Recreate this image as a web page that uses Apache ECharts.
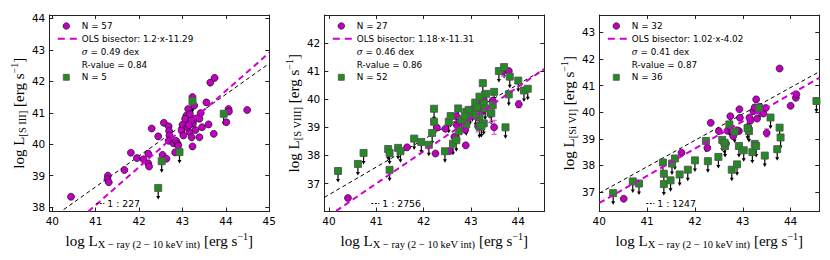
<!DOCTYPE html>
<html><head><meta charset="utf-8">
<script src="https://cdn.jsdelivr.net/npm/echarts@6/dist/echarts.min.js"></script>
<style>html,body{margin:0;padding:0;background:#fff}#c{width:830px;height:260px}</style>
</head><body><div id="c"></div>
<script>
// ---------------- DATA ----------------
// Panel 1: [S III]
const p1Detected = [[40.43,38.33],[41.28,39.00],[41.27,38.89],[41.30,38.79],[41.66,39.18],[41.81,39.73],[41.95,39.56],[42.10,39.52],[42.21,39.70],[42.21,39.39],
 [42.23,39.29],[42.29,40.50],[42.44,40.25],[42.57,40.68],[42.54,39.66],[42.63,39.54],[42.68,40.57],[42.69,40.42],[42.70,40.28],[42.68,40.11],
 [42.79,40.03],[42.85,40.11],[42.83,39.74],[42.89,40.01],[42.98,40.43],[43.00,40.62],[43.09,40.91],[43.11,40.78],[43.13,41.12],[43.23,41.50],
 [43.27,41.23],[43.17,40.96],[43.17,40.38],[43.21,40.22],[43.23,39.93],[43.24,40.65],[43.29,40.81],[43.39,40.81],[43.42,40.99],[43.39,40.22],
 [43.45,40.54],[43.55,41.33],[43.60,40.63],[43.64,41.96],[43.74,42.11],[43.72,40.33],[44.01,40.70],[44.06,41.12],[44.07,41.04],[44.49,41.09],
 [43.06,40.81],[43.02,40.28],[43.11,40.54],[43.20,40.75],[43.15,40.60],[42.90,39.95],[43.30,40.45]];
const p1Limits = [[43.23,41.37],[43.95,40.97],[42.93,39.75],[42.52,39.46],[42.44,38.61]];
const p1Errors = [];
const p1FitLine = [[40.83,37.86],[45.0,42.91]];
const p1RatioLine = [[40.26,37.92],[45.0,42.57]];
const p1Legend = ['N = 57','OLS bisector: 1.2·x-11.29','{i|σ} = 0.49 dex','R-value = 0.84','N = 5'];
const p1RatioLabel = '1 : 227';
const p1Ion = '[S III]';
const xTicks1 = [40,41,42,43,44,45];
const yTicks1 = [38,39,40,41,42,43,44];

// Panel 2: [S VIII]
const p2Detected = [[40.40,36.49],[41.65,38.29],[42.25,38.07],[42.28,38.99],[42.46,38.95],[42.55,38.16],[42.65,38.66],[42.70,39.08],[42.75,39.23],[42.69,39.40],
 [42.88,38.91],[42.89,38.36],[42.94,39.35],[43.11,39.76],[43.14,39.35],[43.15,39.04],[43.20,39.95],[43.27,39.97],[43.23,39.57],[43.41,39.47],
 [43.46,39.95],[43.49,39.00],[43.68,41.00],[43.80,41.00],[44.01,39.82],[43.25,39.63],[43.08,39.61]];
const p2Limits = [[40.19,37.45],[40.61,37.70],[40.73,38.09],[41.25,38.23],[41.28,38.09],[41.28,37.49],[41.46,38.27],[41.51,38.15],[41.80,38.60],[41.95,38.48],
 [42.11,38.38],[42.18,38.80],[42.22,39.20],[42.22,39.66],[42.45,38.15],[42.53,39.20],[42.57,39.40],[42.62,38.42],[42.69,38.54],[42.73,39.67],
 [42.74,38.86],[42.85,39.29],[42.90,39.55],[42.90,39.11],[42.98,39.49],[43.03,39.61],[43.09,39.88],[43.13,39.71],[43.18,39.37],[43.18,39.02],
 [43.25,40.57],[43.27,39.85],[43.27,39.14],[43.30,39.67],[43.32,40.19],[43.49,40.26],[43.46,39.79],[43.59,41.00],[43.70,41.14],[43.73,39.00],
 [43.82,40.80],[43.80,40.17],[44.00,40.66],[44.12,40.31],[44.20,40.37],[43.18,40.09],[42.95,39.62],[43.22,39.05],[42.80,39.25],[43.10,39.45],
 [43.43,39.50],[42.87,39.40]];
const p2Errors = [[43.41,39.47,0.30],[43.49,39.00,0.25],[43.68,41.00,0.18],[44.01,39.82,0.12],[43.20,39.95,0.15],[43.15,39.04,0.20]];
const p2FitLine = [[40.15,36.03],[44.55,41.07]];
const p2RatioLine = [[39.9,36.51],[44.55,41.07]];
const p2Legend = ['N = 27','OLS bisector: 1.18·x-11.31','{i|σ} = 0.46 dex','R-value = 0.86','N = 52'];
const p2RatioLabel = '1 : 2756';
const p2Ion = '[S VIII]';
const xTicks2 = [40,41,42,43,44];
const yTicks2 = [37,38,39,40,41,42];

// Panel 3: [Si VI]
const p3Detected = [[40.51,36.75],[41.72,38.48],[42.26,38.66],[42.33,39.60],[42.50,39.29],[42.61,38.82],[42.65,38.82],[42.68,39.30],[42.73,39.47],[42.74,39.85],
 [42.78,39.27],[42.80,39.10],[42.92,39.29],[42.94,39.79],[42.93,40.11],[43.11,39.45],[43.14,39.80],[43.16,39.68],[43.22,40.04],[43.25,40.18],
 [43.28,40.48],[43.30,39.76],[43.35,40.20],[43.43,39.95],[43.48,40.16],[43.50,39.22],[43.77,41.64],[44.00,40.24],[44.11,40.54],[44.12,40.67],
 [43.12,39.40],[42.88,39.32]];
const p3Limits = [[40.29,36.96],[40.70,37.40],[40.83,37.32],[41.33,38.11],[41.35,37.69],[41.35,37.30],[41.49,37.44],[41.52,38.07],[41.58,38.26],[41.68,37.66],
 [41.85,37.84],[42.00,38.19],[42.23,38.92],[42.27,38.16],[42.49,38.32],[42.57,38.96],[42.63,38.73],[42.72,39.54],[42.77,37.84],[42.83,39.27],
 [42.88,38.04],[42.92,38.73],[43.02,38.57],[43.13,39.29],[43.20,38.50],[43.25,38.81],[43.28,38.73],[43.34,40.16],[43.46,38.37],[43.58,39.80],
 [43.72,38.61],[43.77,39.42],[43.79,39.05],[44.54,40.42],[42.62,38.85],[43.10,39.40]];
const p3Errors = [[43.50,39.22,0.15]];
const p3FitLine = [[40.0,36.59],[44.6,41.29]];
const p3RatioLine = [[40.0,36.96],[44.6,41.52]];
const p3Legend = ['N = 32','OLS bisector: 1.02·x-4.02','{i|σ} = 0.41 dex','R-value = 0.87','N = 36'];
const p3RatioLabel = '1 : 1247';
const p3Ion = '[Si VI]';
const xTicks3 = [40,41,42,43,44];
const yTicks3 = [37,38,39,40,41,42,43];

// ---------------- LAYOUT ----------------
const panels = [
  {det:p1Detected, lim:p1Limits, err:p1Errors, fit:p1FitLine, ratio:p1RatioLine, leg:p1Legend, rl:p1RatioLabel, ion:p1Ion, xt:xTicks1, yt:yTicks1, xr:[39.93,45], yr:[37.86,44.11], left:49.3},
  {det:p2Detected, lim:p2Limits, err:p2Errors, fit:p2FitLine, ratio:p2RatioLine, leg:p2Legend, rl:p2RatioLabel, ion:p2Ion, xt:xTicks2, yt:yTicks2, xr:[39.9,44.55], yr:[36.01,42.99], left:324.3},
  {det:p3Detected, lim:p3Limits, err:p3Errors, fit:p3FitLine, ratio:p3RatioLine, leg:p3Legend, rl:p3RatioLabel, ion:p3Ion, xt:xTicks3, yt:yTicks3, xr:[40.0,44.6], yr:[36.27,43.65], left:599.3}
];
const TOP = 15, H = 196.5, W = 220;
const MAG = '#bf00bf', GRN = '#228b22', LINEMAG = '#d000d0', AX = '#222';

const nameRich = {
  a: {fontFamily:'Liberation Serif', fontSize:15, color:'#000', verticalAlign:'middle', lineHeight:18},
  s: {fontFamily:'Liberation Serif', fontSize:10.5, color:'#000', verticalAlign:'middle', padding:[8,0,0,0], lineHeight:12},
  p: {fontFamily:'Liberation Serif', fontSize:10, color:'#000', verticalAlign:'middle', padding:[0,0,9,0], lineHeight:12}
};
function fmt(v, ticks){ const r = Math.round(v); return (Math.abs(v-r) < 1e-6 && ticks.indexOf(r) >= 0) ? String(r) : ''; }

const grids = [], xAxes = [], yAxes = [], series = [], graphics = [];
panels.forEach((p, i) => {
  grids.push({left:p.left, top:TOP, width:W, height:H});
  const common = {type:'value', gridIndex:i, minInterval:1, maxInterval:1, splitLine:{show:false},
    axisLine:{show:true, onZero:false, lineStyle:{color:AX, width:1}},
    axisTick:{show:true, inside:true, length:4, lineStyle:{color:AX, width:1}}};
  xAxes.push(Object.assign({}, common, {position:'bottom', min:p.xr[0], max:p.xr[1],
    axisLabel:{show:true, formatter:v=>fmt(v,p.xt), fontFamily:'DejaVu Sans', fontSize:10.5, color:'#000', margin:4},
    name:'{a|log L}{s|X − ray (2 − 10 keV int)}{a| [erg s}{p|−1}{a|]}', nameLocation:'middle', nameGap:11,
    nameTextStyle:{rich:nameRich}}));
  xAxes.push(Object.assign({}, common, {position:'top', min:p.xr[0], max:p.xr[1], axisLabel:{show:false}}));
  yAxes.push(Object.assign({}, common, {position:'left', min:p.yr[0], max:p.yr[1],
    axisLabel:{show:true, formatter:v=>fmt(v,p.yt), fontFamily:'DejaVu Sans', fontSize:10.5, color:'#000', margin:4},
    name:'{a|log L}{s|' + p.ion + '}{a| [erg s}{p|−1}{a|]}', nameLocation:'middle', nameGap:21, nameRotate:90,
    nameTextStyle:{rich:nameRich}}));
  yAxes.push(Object.assign({}, common, {position:'right', min:p.yr[0], max:p.yr[1], axisLabel:{show:false}}));
  const xi = 2*i, yi = 2*i;
  series.push({type:'line', xAxisIndex:xi, yAxisIndex:yi, data:p.ratio, showSymbol:false, symbol:'none', z:2, silent:true,
    lineStyle:{color:'#000', width:1, type:[4,3]}});
  series.push({type:'custom', xAxisIndex:xi, yAxisIndex:yi, data:p.lim, z:3, clip:true, silent:true,
    renderItem:(params, api) => {
      const c = api.coord([api.value(0), api.value(1)]);
      return {type:'group', children:[
        {type:'line', shape:{x1:c[0], y1:c[1], x2:c[0], y2:c[1]+9}, style:{stroke:'#000', lineWidth:1.2}},
        {type:'polygon', shape:{points:[[c[0]-2,c[1]+8],[c[0]+2,c[1]+8],[c[0],c[1]+11.5]]}, style:{fill:'#000'}}
      ]};
    }});
  series.push({type:'custom', xAxisIndex:xi, yAxisIndex:yi, data:p.err, z:3, clip:true, silent:true,
    renderItem:(params, api) => {
      const x = api.value(0), y = api.value(1), e = api.value(2);
      const a = api.coord([x, y+e]), b = api.coord([x, y-e]);
      const st = {stroke:'#e060e0', lineWidth:1.2};
      return {type:'group', children:[
        {type:'line', shape:{x1:a[0], y1:a[1], x2:b[0], y2:b[1]}, style:st},
        {type:'line', shape:{x1:a[0]-2.5, y1:a[1], x2:a[0]+2.5, y2:a[1]}, style:st},
        {type:'line', shape:{x1:b[0]-2.5, y1:b[1], x2:b[0]+2.5, y2:b[1]}, style:st}
      ]};
    }});
  series.push({type:'scatter', xAxisIndex:xi, yAxisIndex:yi, data:p.det, symbol:'circle', symbolSize:7, z:4, silent:true,
    itemStyle:{color:MAG, borderColor:'#000', borderWidth:0.6, opacity:1}});
  series.push({type:'scatter', xAxisIndex:xi, yAxisIndex:yi, data:p.lim, symbol:'rect', symbolSize:7, z:5, silent:true,
    itemStyle:{color:GRN, borderColor:'#555', borderWidth:0.9, opacity:1}});
  series.push({type:'line', xAxisIndex:xi, yAxisIndex:yi, data:p.fit, showSymbol:false, symbol:'none', z:6, silent:true,
    lineStyle:{color:LINEMAG, width:2, type:[6,4]}});

  // legend block (top-left inside the axes)
  const L = p.left, rows = [26, 38.7, 52, 64.7, 77.3];
  const tstyle = (t, y) => ({type:'text', style:{text:t, x:L+32.5, y:y, fontFamily:'DejaVu Sans', fontSize:8.8, fill:'#000', verticalAlign:'middle',
    rich:{i:{fontFamily:'DejaVu Serif', fontStyle:'italic', fontSize:8.8}}}, z:20});
  graphics.push({type:'circle', shape:{cx:L+17, cy:rows[0], r:3.3}, style:{fill:MAG, stroke:'#000', lineWidth:0.6}, z:20});
  graphics.push({type:'line', shape:{x1:L+8.5, y1:rows[1], x2:L+27.5, y2:rows[1]}, style:{stroke:LINEMAG, lineWidth:2, lineDash:[7,5]}, z:20});
  graphics.push({type:'rect', shape:{x:L+14, y:rows[4]-3, width:6, height:6}, style:{fill:GRN, stroke:'#555', lineWidth:0.8}, z:20});
  p.leg.forEach((t, k) => graphics.push(tstyle(t, rows[k])));
  // ratio annotation near the bottom
  graphics.push({type:'line', shape:{x1:L+47, y1:203.5, x2:L+55, y2:203.5}, style:{stroke:'#000', lineWidth:1, lineDash:[2,1.5]}, z:20});
  graphics.push({type:'text', style:{text:p.rl, x:L+58, y:203.5, fontFamily:'DejaVu Sans', fontSize:9.3, fill:'#000', verticalAlign:'middle'}, z:20});
});

const chart = echarts.init(document.getElementById('c'), null, {renderer:'svg', width:830, height:260});
chart.setOption({animation:false, backgroundColor:'#fff', grid:grids, xAxis:xAxes, yAxis:yAxes, series:series, graphic:graphics});
</script>
</body></html>
